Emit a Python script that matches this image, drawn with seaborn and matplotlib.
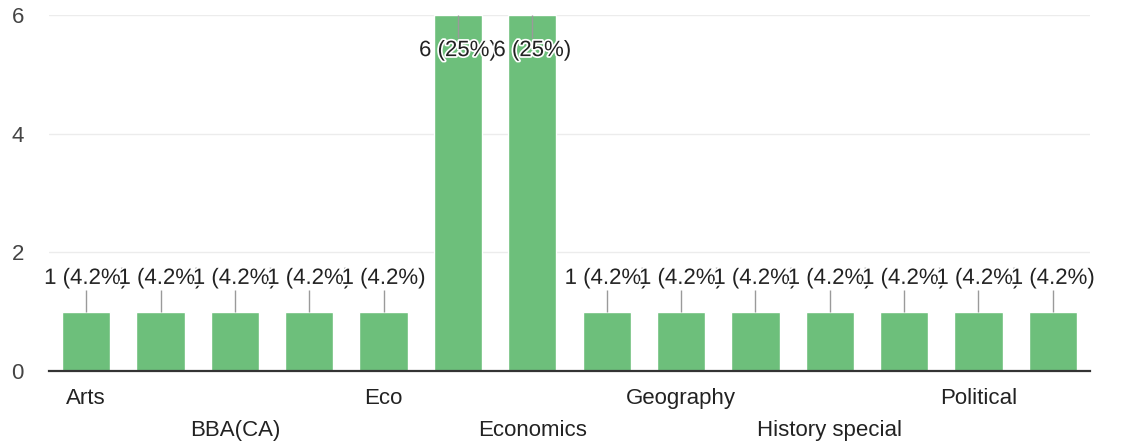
import matplotlib
matplotlib.use("Agg")
import matplotlib.pyplot as plt
import matplotlib.patheffects as pe
import seaborn as sns
import pandas as pd

categories = ["Arts", "BA", "BBA(CA)", "Commerce", "Eco", "Economic", "Economics",
              "English", "Geography", "History", "History special", "Marathi",
              "Political", "Political science"]
counts = [1, 1, 1, 1, 1, 6, 6, 1, 1, 1, 1, 1, 1, 1]
y_ticks = [0, 2, 4, 6]

total = sum(counts)
df = pd.DataFrame({"cat": categories, "n": counts})

sns.set_theme(style="white")
plt.rcParams["font.family"] = ["Liberation Sans", "DejaVu Sans"]

fig = plt.figure(figsize=(11.41, 4.45), dpi=100)
ax = fig.add_axes([49 / 1141, 1 - 371 / 445, (1090 - 49) / 1141, (371 - 15) / 445])

sns.barplot(data=df, x="cat", y="n", color="#6dbf7b", saturation=1, width=0.65, ax=ax, zorder=2)

ymax = 6
ax.set_ylim(0, ymax)
ax.set_xlim(-0.5, len(categories) - 0.5)
ax.set_yticks(y_ticks)
ax.set_yticklabels([str(t) for t in y_ticks], fontsize=16, color="#444444")
ax.tick_params(axis="y", length=0, pad=18)
ax.set_xticks([])
ax.set_xlabel("")
ax.set_ylabel("")
for s in ["top", "right", "left"]:
    ax.spines[s].set_visible(False)
ax.spines["bottom"].set_color("#333333")
ax.spines["bottom"].set_linewidth(1.6)
ax.spines["bottom"].set_zorder(5)
for t in y_ticks[1:]:
    ax.axhline(t, color="#ececec", lw=1, zorder=0)

halo = [pe.withStroke(linewidth=2.5, foreground="white")]
for i, v in enumerate(counts):
    pct = 100 * v / total
    pct_s = f"{pct:.1f}".rstrip("0").rstrip(".")
    label = f"{v} ({pct_s}%)"
    if v + 0.75 > ymax:
        ly = v - 0.6
        ax.vlines(i, v - 0.38, v, color="#9a9a9a", lw=1, zorder=3)
    else:
        ly = v + 0.56
        ax.vlines(i, v, v + 0.36, color="#9a9a9a", lw=1, zorder=3)
    ax.text(i, ly, label, ha="center", va="center", fontsize=16, color="#222222",
            path_effects=halo, zorder=4 + i)

for i, c in enumerate(categories):
    if i % 2 == 1:
        continue
    off = -20 if (i // 2) % 2 == 0 else -43
    ax.annotate(c, xy=(i, 0), xycoords=("data", "axes fraction"), xytext=(0, off),
                textcoords="offset points", ha="center", va="center",
                fontsize=16, color="#222222", annotation_clip=False)

fig.savefig("out.png", dpi=100, facecolor="white")
